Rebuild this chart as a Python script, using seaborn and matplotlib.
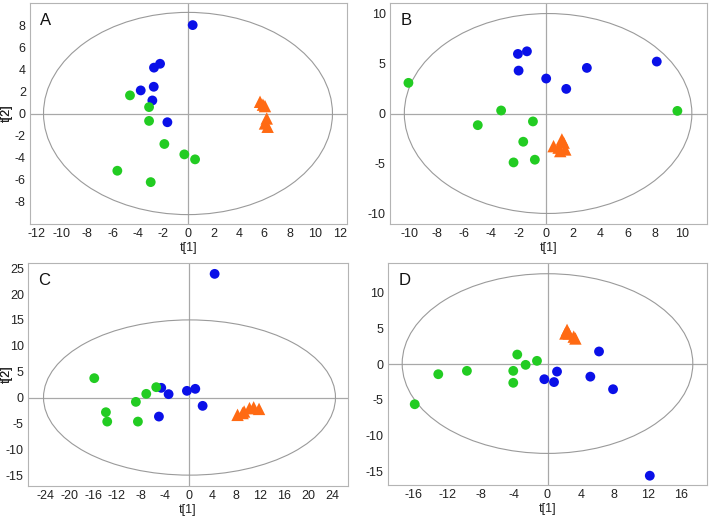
import numpy as np
import pandas as pd
import matplotlib
matplotlib.use("Agg")
import matplotlib.pyplot as plt
from matplotlib.patches import Ellipse
from matplotlib.ticker import MultipleLocator
import seaborn as sns

# score values: (t[1], t[2])
a_blue_x = [0.34, -2.24, -2.72, -2.74, -3.77, -2.85, -1.66]
a_blue_y = [8.0, 4.5, 4.15, 2.42, 2.09, 1.18, -0.79]
a_green_x = [-4.62, -3.11, -3.11, -1.9, -0.32, 0.53, -5.62, -2.98]
a_green_y = [1.64, 0.58, -0.67, -2.76, -3.7, -4.15, -5.18, -6.21]
a_orange_x = [5.67, 6.06, 5.9, 6.2, 6.06, 6.27]
a_orange_y = [1.06, 0.67, 0.8, -0.45, -0.9, -1.2]

b_blue_x = [-2.05, -1.39, -2.0, 0.02, 1.49, 3.0, 8.12]
b_blue_y = [5.93, 6.19, 4.27, 3.48, 2.45, 4.54, 5.17]
b_green_x = [-10.07, -3.28, -4.99, -0.95, -1.66, -2.37, -0.81, 9.63]
b_green_y = [3.05, 0.3, -1.16, -0.79, -2.81, -4.87, -4.6, 0.26]
b_orange_x = [0.56, 0.93, 1.17, 1.3, 1.05, 1.42]
b_orange_y = [-3.25, -3.4, -2.58, -2.9, -3.74, -3.58]

c_blue_x = [4.36, -4.58, -3.35, -0.28, 1.12, 2.35, -4.97]
c_blue_y = [23.9, 1.87, 0.65, 1.29, 1.68, -1.61, -3.68]
c_green_x = [-15.8, -5.42, -7.09, -8.83, -13.85, -13.63, -8.49]
c_green_y = [3.74, 2.0, 0.71, -0.84, -2.84, -4.65, -4.65]
c_orange_x = [8.2, 9.05, 9.3, 10.2, 10.9, 11.8]
c_orange_y = [-3.35, -3.0, -2.7, -2.06, -1.9, -2.2]

d_blue_x = [-0.38, 0.78, 1.14, 5.13, 6.17, 7.85, 12.25]
d_blue_y = [-2.1, -2.5, -1.03, -1.74, 1.78, -3.5, -15.6]
d_green_x = [-15.9, -13.08, -9.65, -3.62, -2.62, -1.26, -4.1, -4.1]
d_green_y = [-5.6, -1.4, -0.93, 1.35, -0.09, 0.47, -0.93, -2.6]
d_orange_x = [2.34, 2.54, 2.14, 3.14, 3.34]
d_orange_y = [4.8, 4.3, 4.3, 3.86, 3.6]

# Hotelling ellipses: centre x, centre y, semi-axis x, semi-axis y
ellipses = {
    "A": (-0.03, 0.0, 11.43, 9.15),
    "B": (0.16, 0.0, 10.53, 9.95),
    "C": (0.15, 0.0, 24.45, 15.0),
    "D": (0.0, 0.09, 17.4, 12.57),
}

panels = {
    "A": (a_blue_x, a_blue_y, a_green_x, a_green_y, a_orange_x, a_orange_y),
    "B": (b_blue_x, b_blue_y, b_green_x, b_green_y, b_orange_x, b_orange_y),
    "C": (c_blue_x, c_blue_y, c_green_x, c_green_y, c_orange_x, c_orange_y),
    "D": (d_blue_x, d_blue_y, d_green_x, d_green_y, d_orange_x, d_orange_y),
}

xlims = {"A": (-12.53, 12.55), "B": (-11.42, 11.8), "C": (-26.9, 26.7), "D": (-19.1, 19.1)}
ylims = {"A": (-10.0, 10.0), "B": (-11.0, 11.0), "C": (-17.1, 26.0), "D": (-16.9, 14.16)}
xsteps = {"A": 2, "B": 2, "C": 4, "D": 4}
ysteps = {"A": 2, "B": 5, "C": 5, "D": 5}
xranges = {"A": (-12, 12), "B": (-10, 10), "C": (-24, 24), "D": (-16, 16)}
yranges = {"A": (-8, 8), "B": (-10, 10), "C": (-15, 25), "D": (-15, 10)}

# axes boxes in pixels: left, top, right, bottom
boxes_px = {
    "A": (30, 3, 347, 224),
    "B": (390, 3, 707, 224),
    "C": (28, 263, 348, 486),
    "D": (388, 263, 707, 485),
}
W, H = 709, 516

palette = {"blue": "#0a10e8", "green": "#22cc22", "orange": "#ff6a13"}
markers = {"blue": "o", "green": "o", "orange": "^"}
sizes = {"blue": 50, "green": 50, "orange": 80}

sns.set_style("white")
plt.rcParams["font.family"] = ["Liberation Sans", "DejaVu Sans"]
plt.rcParams["axes.unicode_minus"] = False

fig = plt.figure(figsize=(W / 100, H / 100), dpi=100)

for key, vals in panels.items():
    bx, by, gx, gy, ox, oy = vals
    df = pd.DataFrame({
        "t1": bx + gx + ox,
        "t2": by + gy + oy,
        "group": ["blue"] * len(bx) + ["green"] * len(gx) + ["orange"] * len(ox),
    })
    l, t, r, b = boxes_px[key]
    ax = fig.add_axes([l / W, 1 - b / H, (r - l) / W, (b - t) / H])
    ax.axhline(0, color="#a8a8a8", lw=0.9, zorder=1)
    ax.axvline(0, color="#a8a8a8", lw=0.9, zorder=1)
    cx, cy, rx, ry = ellipses[key]
    ax.add_patch(Ellipse((cx, cy), 2 * rx, 2 * ry, fill=False,
                         edgecolor="#9a9a9a", lw=0.8, zorder=1))
    sns.scatterplot(data=df, x="t1", y="t2", hue="group", style="group",
                    size="group", sizes=sizes, palette=palette,
                    markers=markers, linewidth=0, legend=False, ax=ax,
                    zorder=3)
    ax.set_xlim(*xlims[key])
    ax.set_ylim(*ylims[key])
    lo, hi = xranges[key]
    ax.set_xticks(np.arange(lo, hi + 0.1, xsteps[key]))
    lo, hi = yranges[key]
    ax.set_yticks(np.arange(lo, hi + 0.1, ysteps[key]))
    ax.xaxis.set_minor_locator(MultipleLocator(xsteps[key] / 2))
    ax.yaxis.set_minor_locator(MultipleLocator(ysteps[key] / 2))
    ax.set_xlim(*xlims[key])
    ax.set_ylim(*ylims[key])
    ax.tick_params(which="both", direction="in", color="#a0a0a0",
                   labelsize=9, labelcolor="#222222", pad=3)
    ax.tick_params(which="major", length=3, width=0.7)
    ax.tick_params(which="minor", length=1.8, width=0.6)
    for sp in ax.spines.values():
        sp.set_color("#b4b4b4")
        sp.set_linewidth(0.8)
    ax.set_xlabel("t[1]", fontsize=9, color="#222222")
    ax.set_ylabel("t[2]", fontsize=9, color="#222222")
    ax.xaxis.set_label_coords(0.5, -24 / (b - t), transform=ax.transAxes)
    ax.yaxis.set_label_coords((7 - l) / (r - l), 0.5, transform=ax.transAxes)
    ax.xaxis.label.set_va("center")
    ax.yaxis.label.set_va("center")
    ax.text(0.032, 0.955, key, transform=ax.transAxes, fontsize=12,
            ha="left", va="top", color="#111111")

fig.savefig("out.png", dpi=100)
